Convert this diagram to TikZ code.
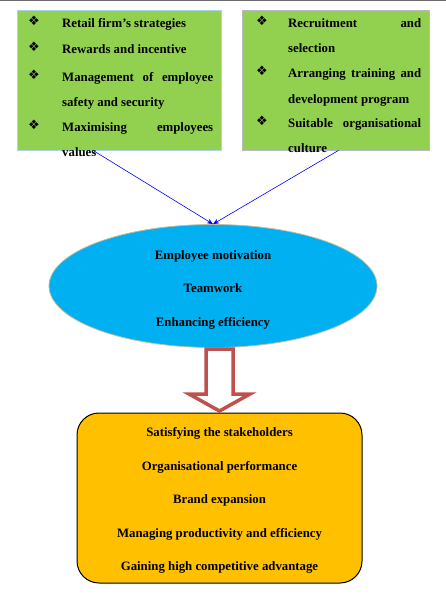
\documentclass[tikz,border=0pt]{standalone}
\usepackage{fontspec}
\setmainfont{Liberation Serif}
\newfontfamily\symfont{DejaVu Sans}
\usetikzlibrary{shapes.geometric,arrows.meta}
\definecolor{boxgreen}{HTML}{92D050}
\definecolor{ellblue}{HTML}{00B0F0}
\definecolor{ellborder}{HTML}{C4BD97}
\definecolor{boxorange}{HTML}{FFC000}
\definecolor{arrowred}{HTML}{C0504D}
\definecolor{lborder}{HTML}{A9D3E8}
\definecolor{rborder}{HTML}{B8B8C8}
\tikzset{
  greenbox/.style={rectangle, fill=boxgreen, line width=0.8pt, inner sep=0pt},
  txt/.style={font=\fontsize{12.8}{14}\selectfont\bfseries, inner sep=0pt, yshift=-2pt},
  ltxt/.style={txt, anchor=mid west},
  ctxt/.style={txt, anchor=mid},
  bul/.style={font=\symfont\fontsize{13}{14}\selectfont, inner sep=0pt, anchor=mid, yshift=-1pt},
  blueline/.style={draw=blue, line width=0.6pt, -{Stealth[length=6pt,width=5pt]}},
}
\begin{document}
\begin{tikzpicture}[x=1pt,y=-1pt]
\useasboundingbox (0,0) rectangle (446,607);
\draw[gray!85!black, line width=1.5pt] (0,0.75) -- (446,0.75);
% top boxes
\node[greenbox, draw=lborder, minimum width=204pt, minimum height=140pt] (L) at (119,80) {};
\node[greenbox, draw=rborder, minimum width=187pt, minimum height=140pt] (R) at (335.5,80) {};
% left texts
\node[bul] (lb1) at (34,22) {❖};
\node[bul] (lb2) at (34,48) {❖};
\node[bul] (lb3) at (34,76) {❖};
\node[bul] (lb4) at (34,126) {❖};
\node[ltxt] (lt1) at (62,23) {Retail firm’s strategies};
\node[ltxt] (lt2) at (62,49) {Rewards and incentive};
\node[ltxt] (lt3) at (62,77) {\makebox[151pt][s]{Management of employee}};
\node[ltxt] (lt4) at (62,102) {safety and security};
\node[ltxt] (lt5) at (62,127) {\makebox[151pt][s]{Maximising employees}};
\node[ltxt] (lt6) at (62,152) {values};
% right texts
\node[bul] (rb1) at (262,22) {❖};
\node[bul] (rb2) at (262,72) {❖};
\node[bul] (rb3) at (262,122) {❖};
\node[ltxt] (rt1) at (288,23) {\makebox[133pt][s]{Recruitment and}};
\node[ltxt] (rt2) at (288,48) {selection};
\node[ltxt] (rt3) at (288,73) {\makebox[133pt][s]{Arranging training and}};
\node[ltxt] (rt4) at (288,99) {development program};
\node[ltxt] (rt5) at (288,123) {\makebox[133pt][s]{Suitable organisational}};
\node[ltxt] (rt6) at (288,148) {culture};
% ellipse
\node[ellipse, fill=ellblue, draw=ellborder, line width=0.8pt, minimum width=328pt, minimum height=123pt] (E) at (213,286) {};
\node[ctxt] (e1) at (213,255) {Employee motivation};
\node[ctxt] (e2) at (213,288) {Teamwork};
\node[ctxt] (e3) at (213,322) {Enhancing efficiency};
% blue connectors
\coordinate (la) at ([xshift=-26pt]L.south);
\coordinate (ra) at ([xshift=3pt]R.south);
\draw[blueline] (la) -- (E.north);
\draw[blueline] (ra) -- (E.north);
% bottom box
\node[rectangle, rounded corners=22pt, fill=boxorange, draw=black, line width=1pt, minimum width=285pt, minimum height=170pt] (B) at (219.5,498) {};
\node[ctxt] (b1) at (219.5,432) {Satisfying the stakeholders};
\node[ctxt] (b2) at (219.5,466) {Organisational performance};
\node[ctxt] (b3) at (219.5,499) {Brand expansion};
\node[ctxt] (b4) at (219.5,533) {Managing productivity and efficiency};
\node[ctxt] (b5) at (219.5,566) {Gaining high competitive advantage};
% hollow block arrow
\draw[draw=arrowred, line width=3.5pt, fill=white, line join=miter]
  (206,349) -- (206,394) -- (189,394) -- (219.5,411) -- (250,394) -- (233,394) -- (233,349) -- cycle;
\end{tikzpicture}
\end{document}
